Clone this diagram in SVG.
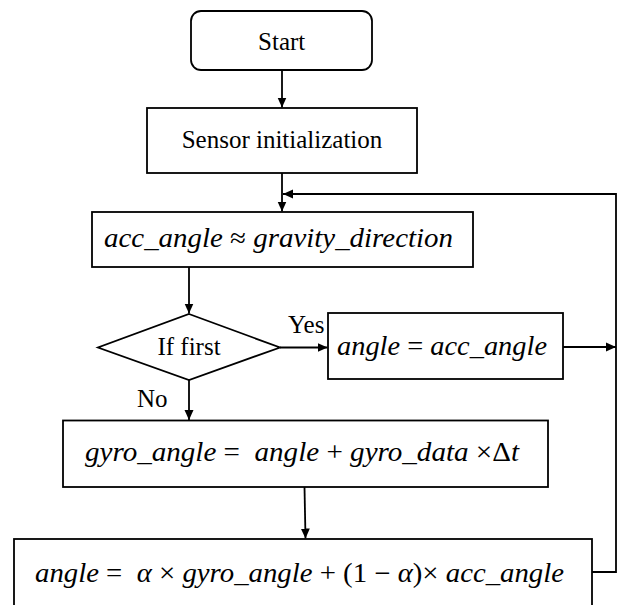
<svg xmlns="http://www.w3.org/2000/svg" width="618" height="605" viewBox="0 0 618 605">
<style>
.box{fill:#fff;stroke:#000;stroke-width:1.8}
.ln{fill:none;stroke:#000;stroke-width:1.8}
.t{font-family:"Liberation Serif","Times New Roman",serif;font-size:25px;fill:#000}
.m{font-family:"Liberation Serif","Times New Roman",serif;font-size:27px;fill:#000}
.i{font-style:italic}
</style>
<defs>
<marker id="ah" markerUnits="userSpaceOnUse" markerWidth="10" markerHeight="10" viewBox="0 0 10 10" refX="10" refY="5" orient="auto">
<path d="M0,0.5 L10,5 L0,9.5 z" fill="#000"/>
</marker>
</defs>
<rect width="618" height="605" fill="#fff"/>
<g id="connectors">
<line class="ln" x1="282" y1="70" x2="282" y2="107.5" marker-end="url(#ah)"/>
<line class="ln" x1="282" y1="173" x2="282" y2="211.5" marker-end="url(#ah)"/>
<polyline class="ln" points="592,572 616,572 616,194 283,194" marker-end="url(#ah)"/>
<line class="ln" x1="563" y1="347" x2="616" y2="347" marker-end="url(#ah)"/>
<line class="ln" x1="189" y1="267" x2="189" y2="313.5" marker-end="url(#ah)"/>
<line class="ln" x1="280" y1="347.5" x2="327.5" y2="347.5" marker-end="url(#ah)"/>
<line class="ln" x1="189" y1="380" x2="189" y2="420" marker-end="url(#ah)"/>
<line class="ln" x1="304.5" y1="487" x2="305.5" y2="538.5" marker-end="url(#ah)"/>
<text class="t" x="288" y="333" font-size="22">Yes</text>
<text class="t" x="137" y="407">No</text>
</g>
<g id="start">
<rect class="box" x="191" y="11" width="181" height="59" rx="10"/>
<text class="t" x="281.7" y="50" text-anchor="middle">Start</text>
</g>
<g id="sensor">
<rect class="box" x="147" y="108" width="270" height="65"/>
<text class="t" x="282" y="148" text-anchor="middle">Sensor initialization</text>
</g>
<g id="acc">
<rect class="box" x="92" y="212" width="381" height="55"/>
<text class="m" x="104" y="247" textLength="349" lengthAdjust="spacingAndGlyphs"><tspan class="i">acc_angle</tspan> ≈ <tspan class="i">gravity_direction</tspan></text>
</g>
<g id="iffirst">
<polygon class="box" points="189,314 280,347.5 189,380 98,347.5"/>
<text class="t" x="189" y="355" text-anchor="middle">If first</text>
</g>
<g id="init-angle">
<rect class="box" x="328" y="313" width="235" height="66"/>
<text class="m" x="337" y="355" textLength="210" lengthAdjust="spacingAndGlyphs"><tspan class="i">angle</tspan> = <tspan class="i">acc_angle</tspan></text>
</g>
<g id="gyro">
<rect class="box" x="63" y="420.5" width="485" height="66.5"/>
<text class="m" x="85" y="461" textLength="434" lengthAdjust="spacingAndGlyphs" xml:space="preserve"><tspan class="i">gyro_angle</tspan> =  <tspan class="i">angle</tspan> + <tspan class="i">gyro_data</tspan> ×Δ<tspan class="i">t</tspan></text>
</g>
<g id="fusion">
<rect class="box" x="14" y="539" width="578" height="90"/>
<text class="m" x="35" y="582" textLength="529" lengthAdjust="spacingAndGlyphs" xml:space="preserve"><tspan class="i">angle</tspan> =  <tspan class="i">α</tspan> × <tspan class="i">gyro_angle</tspan> + (1 − <tspan class="i">α</tspan>)× <tspan class="i">acc_angle</tspan></text>
</g>
</svg>
